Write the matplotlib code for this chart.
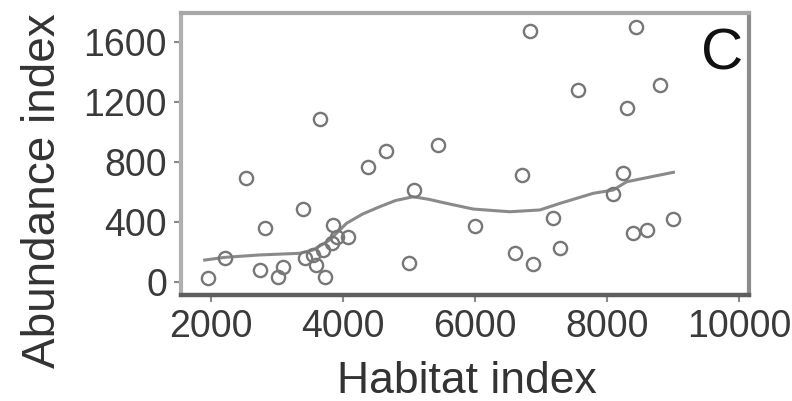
import matplotlib
matplotlib.use("Agg")
import matplotlib.pyplot as plt

plt.rcParams['font.family'] = ['Liberation Sans', 'DejaVu Sans']

# Scatter data (habitat index, abundance index)
habitat = [1955, 2212, 2530, 2818, 2742, 3020, 3095, 3398, 3652,
           3424, 3550, 3701, 3829, 3853, 3905, 4080, 3727, 3601,
           4383, 4647, 5005, 5080, 5435, 6000, 6833, 8435, 7558,
           8803, 8298, 6708, 8247, 8086, 7186, 6606, 6874, 7288,
           8398, 8601, 9005]
abundance = [21, 155, 688, 359, 77, 32, 99, 481, 1081,
             155, 177, 210, 255, 377, 299, 299, 32, 110,
             765, 872, 121, 610, 910, 368, 1672, 1695, 1277,
             1310, 1159, 710, 721, 581, 421, 192, 117, 221,
             325, 343, 415]

# Smoothed trend line
trend_x = [1909, 2212, 2742, 3348, 3550, 3803, 4056, 4300, 4561, 4800, 5065,
           5300, 5571, 5974, 6530, 6985, 7288, 7792, 8095, 8298, 9005]
trend_y = [143, 161, 177, 188, 210, 277, 388, 450, 499, 540, 565,
           548, 521, 483, 465, 477, 521, 588, 610, 665, 728]

xticks = [2000, 4000, 6000, 8000, 10000]
yticks = [0, 400, 800, 1200, 1600]

fig = plt.figure(figsize=(7.92, 4.01), dpi=100)
ax = fig.add_axes([181/792, 1-295/401, (749-181)/792, (295-13)/401])

ax.plot(trend_x, trend_y, color='#8a8a8a', lw=2.2, zorder=2)
ax.plot(habitat, abundance, linestyle='none', marker='o', markersize=9.5,
        markerfacecolor='none', markeredgecolor='#777777', markeredgewidth=1.7, zorder=3)

ax.set_xlim(1550, 10150)
ax.set_ylim(-90, 1790)
ax.set_xticks(xticks)
ax.set_yticks(yticks)
ax.set_xticklabels([str(v) for v in xticks])
ax.set_yticklabels([str(v) for v in yticks])

ax.tick_params(axis='both', which='major', labelsize=27, colors='#8a8a8a',
               labelcolor='#3a3a3a', length=5, width=1.5, pad=5)

for side, col, w in [('left', '#b0b0b0', 3), ('top', '#a8a8a8', 3),
                     ('right', '#8c8c8c', 3), ('bottom', '#5e5e5e', 3.2)]:
    ax.spines[side].set_color(col)
    ax.spines[side].set_linewidth(w)

ax.set_xlabel('Habitat index', fontsize=32, color='#333333')
ax.xaxis.label.set_verticalalignment('baseline')
ax.xaxis.set_label_coords((467-181)/568, (295-393)/282)

ax.set_ylabel('Abundance index', fontsize=33, color='#333333')
ax.yaxis.label.set_verticalalignment('baseline')
ax.yaxis.set_label_coords((55-181)/568, (295-191)/282)

ax.text((722-181)/568, (295-55)/282, 'C', transform=ax.transAxes,
        fontsize=42, color='#111111', ha='center', va='center')

fig.savefig('out.png', dpi=100)
